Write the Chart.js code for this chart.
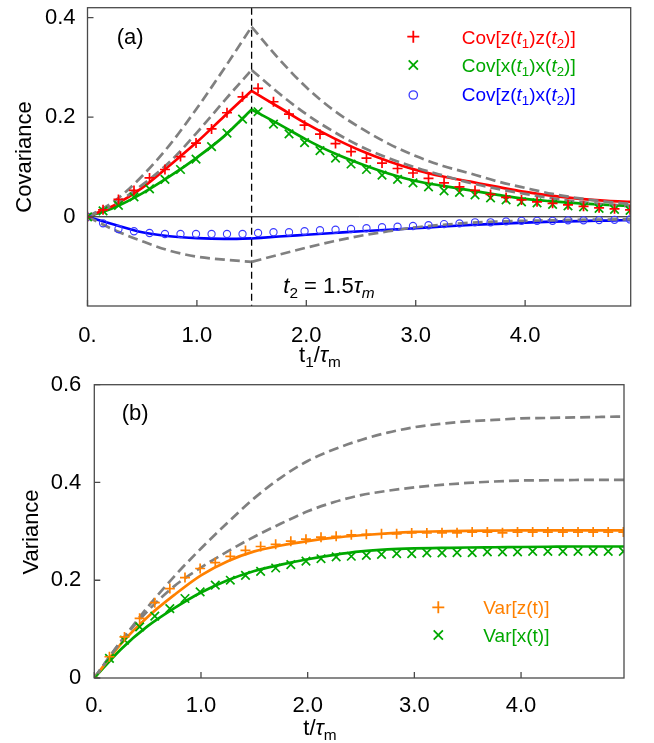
<!DOCTYPE html>
<html><head><meta charset="utf-8">
<script src="https://cdn.jsdelivr.net/npm/chart.js@4.4.0/dist/chart.umd.min.js"></script>
<style>
html,body{margin:0;padding:0;background:#fff;}
#wrap{position:relative;width:654px;height:743px;background:#fff;}
#ca{position:absolute;left:0;top:0;width:654px;height:370px;}
#cb{position:absolute;left:0;top:370px;width:654px;height:373px;}
</style></head><body>
<div id="wrap"><canvas id="ca" width="654" height="370"></canvas><canvas id="cb" width="654" height="373"></canvas></div>
<script>
// ---------- data ----------
// simulation sample times (t / tau_m)
const tMarks = [0, 0.142, 0.283, 0.425, 0.567, 0.708, 0.85, 0.992, 1.134, 1.275, 1.417, 1.559,
  1.70, 1.842, 1.984, 2.125, 2.267, 2.409, 2.55, 2.692, 2.834, 2.975, 3.117, 3.259, 3.40,
  3.542, 3.684, 3.826, 3.967, 4.109, 4.251, 4.392, 4.534, 4.676, 4.817, 4.959];
// panel (a) markers
const covZZ = [0, 0.014, 0.035, 0.053, 0.078, 0.095, 0.121, 0.148, 0.1765, 0.209, 0.241, 0.258,
  0.231, 0.206, 0.184, 0.166, 0.147, 0.131, 0.118, 0.108, 0.097, 0.088, 0.077, 0.068, 0.060,
  0.053, 0.045, 0.039, 0.034, 0.030, 0.027, 0.024, 0.021, 0.018, 0.016, 0.014];
const covXX = [0, 0.012, 0.023, 0.040, 0.056, 0.075, 0.095, 0.116, 0.141, 0.168, 0.196, 0.211,
  0.186, 0.1665, 0.149, 0.133, 0.118, 0.106, 0.095, 0.0836, 0.075, 0.068, 0.060, 0.052, 0.049,
  0.044, 0.038, 0.034, 0.030, 0.028, 0.025, 0.022, 0.020, 0.017, 0.015, 0.013];
const covZX = [0, -0.013, -0.0245, -0.029, -0.0325, -0.0345, -0.0345, -0.0345, -0.0345, -0.0345,
  -0.0345, -0.0325, -0.031, -0.031, -0.029, -0.027, -0.026, -0.0245, -0.023, -0.021, -0.020,
  -0.0185, -0.017, -0.0146, -0.0133, -0.011, -0.011, -0.0093, -0.008, -0.008, -0.008, -0.007,
  -0.007, -0.0065, -0.006, -0.0053];
// panel (a) curves, before (A) and after (B) t2 = 1.5
const t2Value = 1.5;
const tLineA = [0, 0.25, 0.5, 0.75, 1.0, 1.25, 1.5];
const tLineB = [1.5, 1.75, 2.0, 2.25, 2.5, 2.75, 3.0, 3.25, 3.5, 3.75, 4.0, 4.25, 4.5, 4.75, 4.965];
const zzA = [0, 0.024, 0.058, 0.103, 0.150, 0.202, 0.253];
const zzB = [0.253, 0.220, 0.187, 0.158, 0.1326, 0.1116, 0.0943, 0.081, 0.0705, 0.060, 0.050, 0.042, 0.036, 0.032, 0.030];
const xxA = [0, 0.019, 0.047, 0.081, 0.119, 0.162, 0.2155];
const xxB = [0.2155, 0.186, 0.155, 0.128, 0.106, 0.087, 0.072, 0.062, 0.053, 0.044, 0.036, 0.031, 0.027, 0.024, 0.022];
const zxA = [0, -0.016, -0.031, -0.039, -0.043, -0.0445, -0.0435];
const zxB = [-0.0435, -0.0395, -0.036, -0.0325, -0.029, -0.026, -0.023, -0.0195, -0.0165, -0.014, -0.0115, -0.0098, -0.0085, -0.0075, -0.0066];
const hiA = [0, 0.032, 0.082, 0.144, 0.218, 0.298, 0.3815];
const hiB = [0.3815, 0.317, 0.260, 0.214, 0.178, 0.147, 0.122, 0.102, 0.087, 0.071, 0.058, 0.046, 0.037, 0.030, 0.026];
const midA = [0, 0.026, 0.064, 0.110, 0.169, 0.233, 0.295];
const midB = [0.295, 0.248, 0.206, 0.171, 0.141, 0.118, 0.099, 0.083, 0.068, 0.056, 0.046, 0.037, 0.030, 0.025, 0.021];
const loA = [0, -0.027, -0.049, -0.068, -0.080, -0.086, -0.0905];
const loB = [-0.0905, -0.076, -0.062, -0.049, -0.038, -0.029, -0.021, -0.016, -0.012, -0.0095, -0.008, -0.007, -0.006, -0.0055, -0.005];
// panel (b) markers
const varZ = [0, 0.0435, 0.084, 0.122, 0.154, 0.183, 0.2055, 0.224, 0.236, 0.249, 0.261, 0.269,
  0.2735, 0.280, 0.284, 0.288, 0.290, 0.293, 0.294, 0.295, 0.295, 0.2966, 0.2966, 0.297, 0.297,
  0.2986, 0.2986, 0.297, 0.2986, 0.2986, 0.2986, 0.2986, 0.2986, 0.2986, 0.2986, 0.2986];
const varX = [0, 0.040, 0.0776, 0.1047, 0.1265, 0.142, 0.1626, 0.176, 0.19, 0.20, 0.21, 0.218,
  0.225, 0.232, 0.239, 0.244, 0.2476, 0.249, 0.251, 0.253, 0.2544, 0.2544, 0.2558, 0.2558,
  0.2565, 0.2565, 0.258, 0.258, 0.258, 0.259, 0.259, 0.259, 0.259, 0.259, 0.259, 0.259];
// panel (b) curves
const tLineV = [0, 0.25, 0.5, 0.75, 1.0, 1.25, 1.5, 1.75, 2.0, 2.25, 2.5, 2.75, 3.0, 3.25, 3.5, 3.75, 4.0, 4.25, 4.5, 4.75, 4.965];
const varZLine = [0, 0.070, 0.125, 0.170, 0.210, 0.239, 0.259, 0.271, 0.280, 0.287, 0.292, 0.296, 0.299, 0.300, 0.301, 0.3015, 0.302, 0.302, 0.302, 0.302, 0.302];
const varXLine = [0, 0.059, 0.106, 0.143, 0.175, 0.200, 0.219, 0.232, 0.243, 0.252, 0.259, 0.263, 0.265, 0.266, 0.267, 0.2675, 0.268, 0.2685, 0.269, 0.269, 0.269];
const varHi = [0, 0.075, 0.145, 0.208, 0.265, 0.318, 0.368, 0.410, 0.444, 0.468, 0.487, 0.502, 0.513, 0.520, 0.525, 0.528, 0.531, 0.532, 0.533, 0.534, 0.535];
const varMid = [0, 0.075, 0.137, 0.188, 0.226, 0.259, 0.289, 0.316, 0.341, 0.360, 0.374, 0.383, 0.390, 0.395, 0.399, 0.402, 0.404, 0.4045, 0.405, 0.4055, 0.4055];
// ticks
const xTickValues = [0, 1, 2, 3, 4];
const xTickLabels = ['0.', '1.0', '2.0', '3.0', '4.0'];
const yTickValuesA = [0, 0.2, 0.4];
const yTickLabelsA = ['0', '0.2', '0.4'];
const yTickValuesB = [0, 0.2, 0.4, 0.6];
const yTickLabelsB = ['0', '0.2', '0.4', '0.6'];

// ---------- styling ----------
const FONT = '"Liberation Sans", Arial, Helvetica, sans-serif';
const FRAME = '#4a4a4a';
const RED = '#ff0000', GREEN = '#00a800', BLUE = '#0000ff', CIRC = '#3a3aff', ORANGE = '#ff8000', GRAY = '#808080';
const pts = (xs, ys) => xs.map((x, i) => ({x: x, y: ys[i]}));

function drawRich(ctx, x, y, parts, size, color, align) {
  ctx.save();
  ctx.fillStyle = color; ctx.textBaseline = 'alphabetic'; ctx.textAlign = 'left';
  const fontFor = st => (st.includes('i') ? 'italic ' : '') + (st.includes('s') ? size * 0.7 : size) + 'px ' + FONT;
  let w = 0;
  for (const [t, st] of parts) { ctx.font = fontFor(st); w += ctx.measureText(t).width; }
  let cx = align === 'center' ? x - w / 2 : x;
  for (const [t, st] of parts) {
    ctx.font = fontFor(st);
    ctx.fillText(t, cx, y + (st.includes('s') ? size * 0.22 : 0));
    cx += ctx.measureText(t).width;
  }
  ctx.restore();
}
function drawMarker(ctx, type, x, y, r, color, lw) {
  ctx.save(); ctx.strokeStyle = color; ctx.lineWidth = lw; ctx.beginPath();
  if (type === 'cross') { ctx.moveTo(x - r, y); ctx.lineTo(x + r, y); ctx.moveTo(x, y - r); ctx.lineTo(x, y + r); }
  else if (type === 'crossRot') { const d = r * 0.7071; ctx.moveTo(x - d, y - d); ctx.lineTo(x + d, y + d); ctx.moveTo(x + d, y - d); ctx.lineTo(x - d, y + d); }
  else { ctx.arc(x, y, r, 0, Math.PI * 2); }
  ctx.stroke(); ctx.restore();
}
function drawYTitle(ctx, text, cx, cy) {
  ctx.save(); ctx.translate(cx, cy); ctx.rotate(-Math.PI / 2);
  ctx.font = '22px ' + FONT; ctx.fillStyle = '#000'; ctx.textAlign = 'center'; ctx.textBaseline = 'middle';
  ctx.fillText(text, 0, 0); ctx.restore();
}
function drawFrameTicks(chart, xt, yt) {
  const {ctx, chartArea: a, scales: {x, y}} = chart;
  ctx.save(); ctx.strokeStyle = FRAME; ctx.lineWidth = 1.3;
  ctx.strokeRect(a.left, a.top, a.right - a.left, a.bottom - a.top);
  ctx.beginPath();
  xt.forEach(v => { const p = x.getPixelForValue(v); ctx.moveTo(p, a.bottom); ctx.lineTo(p, a.bottom - 6); });
  yt.forEach(v => { const p = y.getPixelForValue(v); ctx.moveTo(a.left, p); ctx.lineTo(a.left + 6, p); });
  ctx.stroke(); ctx.restore();
}

function lineDs(xs, ys, color, dashed, order) {
  return {data: pts(xs, ys), showLine: true, borderColor: color, borderWidth: 2.7,
    borderDash: dashed ? [10, 5] : [], pointRadius: 0, cubicInterpolationMode: 'monotone', fill: false, order: order};
}
function markDs(ys, style, color, r, lw) {
  return {data: pts(tMarks, ys), showLine: false, pointStyle: style, pointRadius: r, borderColor: color,
    backgroundColor: 'rgba(0,0,0,0)', pointBorderWidth: lw, order: 0};
}
function scalesFor(xmax, ymin, ymax, yVals, yLabels, xPad, yPad, yAxisW, xAxisH) {
  return {
    x: {type: 'linear', min: 0, max: xmax, grid: {display: false}, border: {display: false},
      afterBuildTicks: s => { s.ticks = xTickValues.map(v => ({value: v})); },
      afterFit: s => { s.height = xAxisH; s.paddingLeft = 0; s.paddingRight = 0; },
      ticks: {padding: xPad, color: '#000', font: {family: FONT, size: 22}, maxRotation: 0, autoSkip: false,
        callback: (v, i) => xTickLabels[i]}},
    y: {type: 'linear', min: ymin, max: ymax, grid: {display: false}, border: {display: false},
      afterBuildTicks: s => { s.ticks = yVals.map(v => ({value: v})); },
      afterFit: s => { s.width = yAxisW; s.paddingTop = 0; s.paddingBottom = 0; },
      ticks: {padding: yPad, color: '#000', font: {family: FONT, size: 22}, autoSkip: false,
        callback: (v, i) => yLabels[i]}}
  };
}

// ---------- panel (a) ----------
const decorA = {
  id: 'decorA',
  beforeDatasetsDraw(chart) {
    const {ctx, chartArea: a, scales: {x, y}} = chart;
    ctx.save();
    ctx.strokeStyle = '#000'; ctx.lineWidth = 1;
    const y0 = y.getPixelForValue(0);
    ctx.beginPath(); ctx.moveTo(a.left, y0); ctx.lineTo(a.right, y0); ctx.stroke();
    const xv = x.getPixelForValue(t2Value);
    ctx.setLineDash([7, 4]); ctx.lineWidth = 1.3;
    ctx.beginPath(); ctx.moveTo(xv, a.top); ctx.lineTo(xv, a.bottom); ctx.stroke();
    ctx.restore();
  },
  afterDraw(chart) {
    const ctx = chart.ctx;
    drawFrameTicks(chart, xTickValues, yTickValuesA);
    drawRich(ctx, 116.7, 43.5, [['(a)', '']], 22, '#000');
    drawMarker(ctx, 'cross', 413.3, 36.7, 6, RED, 1.8);
    drawMarker(ctx, 'crossRot', 413.3, 65, 6.5, GREEN, 1.8);
    drawMarker(ctx, 'circle', 413.3, 95, 4.2, CIRC, 1.3);
    drawRich(ctx, 461.7, 43.5, [['Cov[z(', ''], ['t', 'i'], ['1', 's'], [')z(', ''], ['t', 'i'], ['2', 's'], [')]', '']], 19, RED);
    drawRich(ctx, 461.7, 71.8, [['Cov[x(', ''], ['t', 'i'], ['1', 's'], [')x(', ''], ['t', 'i'], ['2', 's'], [')]', '']], 19, GREEN);
    drawRich(ctx, 461.7, 100.8, [['Cov[z(', ''], ['t', 'i'], ['1', 's'], [')x(', ''], ['t', 'i'], ['2', 's'], [')]', '']], 19, BLUE);
    drawRich(ctx, 283.3, 292.7, [['t', 'i'], ['2', 's'], [' = 1.5', ''], ['τ', 'i'], ['m', 'si']], 22, '#000');
    drawYTitle(ctx, 'Covariance', 25, 157);
    drawRich(ctx, 320, 362, [['t', ''], ['1', 's'], ['/', ''], ['τ', 'i'], ['m', 's']], 22, '#000', 'center');
  }
};
new Chart(document.getElementById('ca'), {
  type: 'scatter',
  data: {datasets: [
    markDs(covZZ, 'cross', RED, 5, 1.7),
    markDs(covXX, 'crossRot', GREEN, 6, 1.7),
    markDs(covZX, 'circle', CIRC, 3.6, 1.1),
    lineDs(tLineA, hiA, GRAY, true, 1), lineDs(tLineB, hiB, GRAY, true, 1),
    lineDs(tLineA, midA, GRAY, true, 1), lineDs(tLineB, midB, GRAY, true, 1),
    lineDs(tLineA, loA, GRAY, true, 1), lineDs(tLineB, loB, GRAY, true, 1),
    lineDs(tLineA, zzA, RED, false, 2), lineDs(tLineB, zzB, RED, false, 2),
    lineDs(tLineA, xxA, GREEN, false, 2), lineDs(tLineB, xxB, GREEN, false, 2),
    lineDs(tLineA, zxA, BLUE, false, 2), lineDs(tLineB, zxB, BLUE, false, 2)
  ]},
  options: {
    responsive: false, animation: false, devicePixelRatio: 1, events: [],
    layout: {padding: {left: 0, top: 5, right: 23.3, bottom: 0}},
    plugins: {legend: {display: false}, tooltip: {enabled: false}},
    scales: scalesFor(4.965, -0.1791, 0.4199, yTickValuesA, yTickLabelsA, 9, 4, 87.5, 64)
  },
  plugins: [decorA]
});

// ---------- panel (b) ----------
const decorB = {
  id: 'decorB',
  afterDraw(chart) {
    const ctx = chart.ctx;
    drawFrameTicks(chart, xTickValues, yTickValuesB);
    drawRich(ctx, 121.7, 50, [['(b)', '']], 22, '#000');
    drawMarker(ctx, 'cross', 438.3, 237.3, 6, ORANGE, 1.8);
    drawMarker(ctx, 'crossRot', 438.3, 265, 6.5, GREEN, 1.8);
    drawRich(ctx, 483.3, 243.8, [['Var[z(t)]', '']], 19, ORANGE);
    drawRich(ctx, 483.3, 271.8, [['Var[x(t)]', '']], 19, GREEN);
    drawYTitle(ctx, 'Variance', 31.7, 162);
    drawRich(ctx, 320, 365, [['t', ''], ['/', ''], ['τ', 'i'], ['m', 's']], 22, '#000', 'center');
  }
};
new Chart(document.getElementById('cb'), {
  type: 'scatter',
  data: {datasets: [
    markDs(varZ, 'cross', ORANGE, 5, 1.7),
    markDs(varX, 'crossRot', GREEN, 6, 1.7),
    lineDs(tLineV, varHi, GRAY, true, 1),
    lineDs(tLineV, varMid, GRAY, true, 1),
    lineDs(tLineV, varZLine, ORANGE, false, 2),
    lineDs(tLineV, varXLine, GREEN, false, 2)
  ]},
  options: {
    responsive: false, animation: false, devicePixelRatio: 1, events: [],
    layout: {padding: {left: 0, top: 14.7, right: 30, bottom: 0}},
    plugins: {legend: {display: false}, tooltip: {enabled: false}},
    scales: scalesFor(4.965, 0, 0.6, yTickValuesB, yTickLabelsB, 7, 5, 94.3, 65)
  },
  plugins: [decorB]
});
</script></body></html>
